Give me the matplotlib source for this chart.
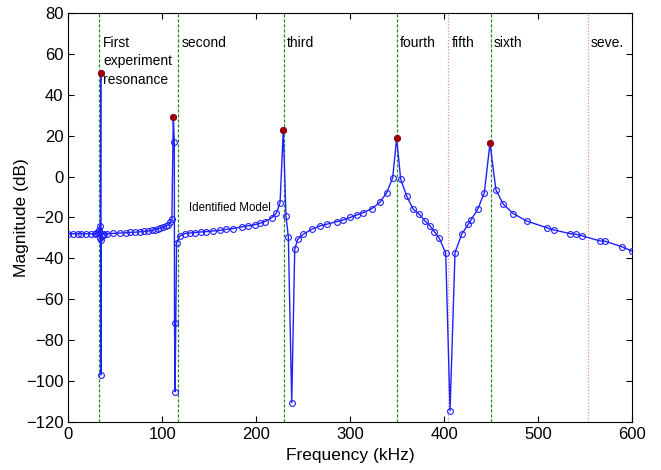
import numpy as np
import matplotlib
matplotlib.use("Agg")
import matplotlib.pyplot as plt

plt.rcParams['font.family'] = ['Liberation Sans', 'DejaVu Sans']

# %% Data
freq_model = [0, 5, 10, 14, 19, 24, 28, 30, 31.5, 32.5, 33.2, 33.8, 34.2, 34.5, 34.8,
              35.1, 35.6, 36.5, 38, 41, 48, 55, 61, 66, 71, 76, 81, 85, 89, 92, 95,
              98, 101, 104, 106.5, 108.5, 110.2, 111.7, 112.8, 113.0, 113.6, 115.2,
              118.8, 124, 129, 134.7, 141, 147, 154, 161.4, 168, 175.5, 184.4, 191.5,
              198.6, 204, 209.3, 216.4, 221.2, 225.3, 228.7, 231.6, 234.1, 237.7,
              240.9, 244, 250, 258.9, 267.8, 274.9, 285.5, 291.9, 299.7, 306.8, 313.8,
              322.8, 331.6, 338.8, 345.1, 349.3, 353.6, 360, 367, 373.4, 379.5, 384.8,
              389.5, 394.7, 401.5, 406.1, 411.4, 418.5, 425.5, 428.1, 435.5, 442.6,
              448.6, 454.9, 462.8, 473.4, 487.6, 508.9, 516.7, 533.7, 539.8, 546.8,
              565.6, 570.9, 588.7, 599.4]
mag_model = [-28, -28, -28, -28, -28, -28, -28, -27.8, -27.5, -27, -26, -24, -30, 51, -97,
             -31, -29, -28.5, -28, -28, -27.8, -27.6, -27.5, -27.3, -27.2, -27, -26.8,
             -26.6, -26.3, -26, -25.6, -25.2, -24.8, -24.2, -23.5, -22.3, -20.9, 29.4,
             17.1, -71.5, -105.3, -32.3, -29, -27.9, -27.6, -27.4, -27.1, -26.9, -26.6,
             -26.3, -25.8, -25.4, -24.6, -24.1, -23.5, -22.8, -22, -20.1, -18, -12.7,
             22.7, -19.3, -29.5, -110.7, -35.6, -30.7, -28.2, -25.8, -24.1, -23.3, -22,
             -21.3, -20, -18.8, -17.6, -15.7, -12.5, -7.8, -0.5, 18.8, -1.3, -9.5, -16,
             -18.4, -21.7, -24.1, -27, -30.2, -37.5, -114.7, -37.2, -28.2, -23.3, -21.4,
             -16, -7.8, 16.4, -6.5, -13.5, -18.1, -21.7, -25, -26.1, -27.9, -28.2, -29,
             -31.5, -31.6, -34.3, -36.4]

freq_peaks = [34.5, 111.7, 228.7, 349.3, 448.6]
mag_peaks = [51, 29.4, 22.7, 18.8, 16.4]

freq_exp = [33.0, 116.4, 229.8, 349.3, 449.7]      # green dashed
freq_missing = [404.3, 553.2]                       # red dotted
mode_labels = ['First\nexperiment\nresonance', 'second', 'third', 'fourth',
               'fifth', 'sixth', 'seve.']
label_x = [37, 121, 232.7, 352.9, 408.2, 452.9, 556]

# %% Plot
fig = plt.figure(figsize=(6.61, 4.70), dpi=100)
ax = fig.add_axes([0.1033, 0.1028, 0.8533, 0.8689])

for f in freq_exp:
    ax.axvline(f, color='#1a8f1a', linestyle=(0, (2.5, 1.5)), linewidth=0.9, zorder=1)
for f in freq_missing:
    ax.axvline(f, color='#e89090', linestyle=(0, (1, 1.5)), linewidth=0.9, zorder=1)

ax.plot(freq_model, mag_model, color='#2020ff', linewidth=1.0, marker='o',
        markersize=4.2, markerfacecolor='none', markeredgewidth=0.8, zorder=3)
ax.plot(freq_peaks, mag_peaks, linestyle='none', marker='o', markersize=4,
        color='#a00000', zorder=4)

for lab, xl in zip(mode_labels, label_x):
    ax.text(xl, 68.8, lab, fontsize=10, va='top', ha='left', linespacing=1.38)
ax.text(128, -15.5, 'Identified Model', fontsize=8.3, va='center', ha='left')

ax.set_xlim(0, 600)
ax.set_ylim(-120, 80)
ax.set_xticks(np.arange(0, 601, 100))
ax.set_yticks(np.arange(-120, 81, 20))
ax.tick_params(direction='in', top=True, right=True, labelsize=12, length=4)
ax.set_xlabel('Frequency (kHz)', fontsize=12.5)
ax.set_ylabel('Magnitude (dB)', fontsize=12.5)
ax.yaxis.set_label_coords(-0.07, 0.5)
ax.xaxis.set_label_coords(0.5, -0.064)

fig.savefig('out.png', dpi=100)
